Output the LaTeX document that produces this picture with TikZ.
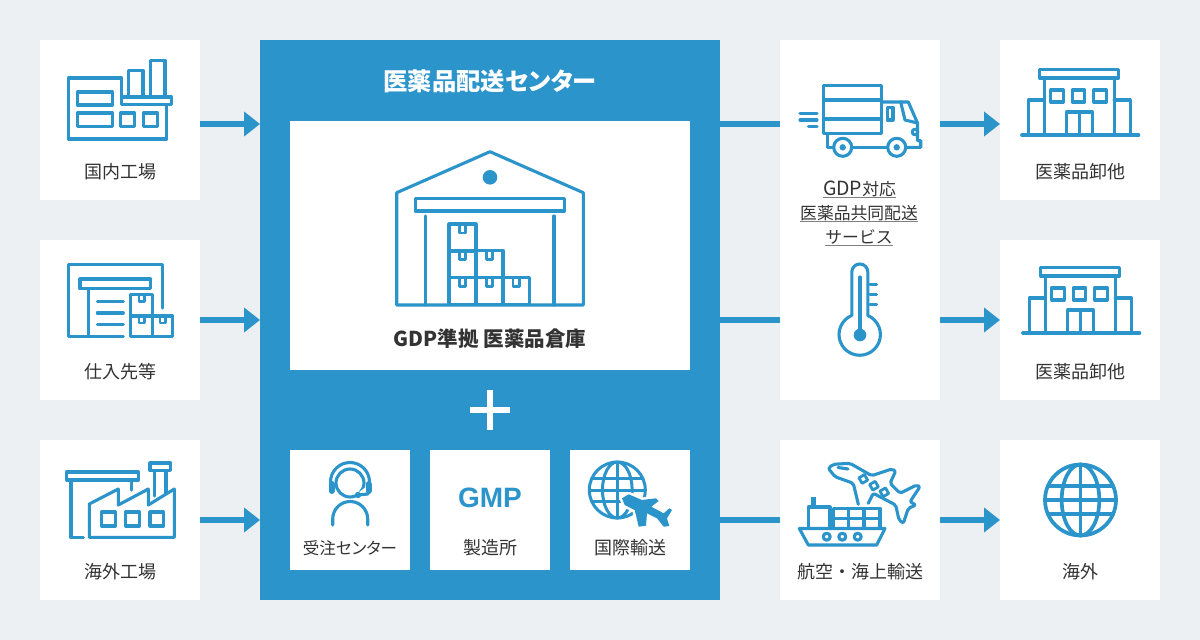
\documentclass[tikz,border=0pt]{standalone}
\usepackage{fontspec}
\setmainfont{Noto Sans CJK JP}
\newfontfamily\paltfont[RawFeature=+palt]{Noto Sans CJK JP}
\newfontfamily\gmpfont{Liberation Sans}
\usetikzlibrary{positioning, arrows.meta}
\definecolor{pagebg}{HTML}{ECF0F2}
\definecolor{mainblue}{HTML}{2A94CB}
\definecolor{labeltext}{HTML}{333333}

% Carton tape, a small U below the top edge
\newcommand{\boxtape}[4]{\draw[iconline, line width=2.8pt] (#1-#3,#2) -- (#1-#3,#2+#4) -- (#1+#3,#2+#4) -- (#1+#3,#2);}
% Globe with meridians and parallels
\newcommand{\globeicon}[4]{
  \draw[iconline, line width=#4pt] (#1,#2) circle[radius=#3pt];
  \draw[iconline, line width=#4pt] (#1,#2) ellipse[x radius=0.53*#3pt,y radius=#3pt];
  \draw[iconline, line width=#4pt] (#1,#2-#3) -- (#1,#2+#3);
  \draw[iconline, line width=#4pt] (#1-#3,#2) -- (#1+#3,#2);
  \draw[iconline, line width=#4pt] (#1-0.917*#3,#2-0.4*#3) -- (#1+0.917*#3,#2-0.4*#3);
  \draw[iconline, line width=#4pt] (#1-0.917*#3,#2+0.4*#3) -- (#1+0.917*#3,#2+0.4*#3);
}
% Small shop building, origin at the left end of the ground line
\newcommand{\shopicon}[2]{
  \begin{scope}[shift={(#1,#2)}]
    \draw[iconline] (0,0) -- (117,0);
    \draw[iconline] (18,-65.5) rectangle (97,-57);
    \draw[iconline] (22.5,-57) -- (22.5,0);
    \draw[iconline] (92.5,-57) -- (92.5,0);
    \draw[iconline] (22.5,-35) -- (6.5,-35) -- (6.5,0);
    \draw[iconline] (92.5,-35) -- (108.5,-35) -- (108.5,0);
    \foreach \wx in {29,50.5,72} {
      \draw[iconline] (\wx,-45) rectangle (\wx+12.5,-33);
    }
    \draw[iconline] (45,0) -- (45,-23) -- (70.5,-23) -- (70.5,0);
    \draw[iconline] (57.7,-23) -- (57.7,0);
  \end{scope}
}

\begin{document}
\begin{tikzpicture}[
    x=1pt, y=-1pt,
    % Define the boxes, labels and lines
    whitebox/.style={
        fill=white,
        inner sep=0pt,
        outer sep=0pt,
        minimum width=160pt,
        minimum height=160pt
    },
    subbox/.style={whitebox, minimum width=120pt, minimum height=120pt},
    boxlabel/.style={text=labeltext, font=\paltfont\fontsize{18}{18}\selectfont, inner sep=0pt},
    servicelabel/.style={text=labeltext, font=\fontsize{16.8}{17}\selectfont, inner sep=0pt, text depth=2.5pt, text height=15pt},
    underrule/.style={draw=gray, line width=1pt},
    iconline/.style={draw=mainblue, line width=3.1pt, line join=round, line cap=round},
    flowline/.style={draw=mainblue, line width=6pt},
    flowarrow/.style={flowline, -{Triangle[length=16pt,width=24pt]}}
]
\useasboundingbox (0,0) rectangle (1200,640);
\fill[pagebg] (0,0) rectangle (1200,640);

% Heights of the three flows
\coordinate (rowA) at (0,124);
\coordinate (rowB) at (0,320);
\coordinate (rowC) at (0,520);

% Left column
\node[whitebox] (factoryhome) at (120,120) {};
\node[whitebox, below=40pt of factoryhome] (supplier) {};
\node[whitebox, below=40pt of supplier] (factoryabroad) {};

% Distribution centre
\node[fill=mainblue, inner sep=0pt, outer sep=0pt, minimum width=460pt, minimum height=560pt] (center) at (490,320) {};
\node[whitebox, minimum width=400pt, minimum height=249pt] (warehouse) at (490,245.5) {};
\node[subbox] (callcenter) at (350,510) {};
\node[subbox, right=20pt of callcenter] (gmpplant) {};
\node[subbox, right=20pt of gmpplant] (intlship) {};

% Right columns
\node[whitebox, minimum height=360pt] (service) at (860,220) {};
\node[whitebox, below=40pt of service] (transport) {};
\node[whitebox] (wholesaleA) at (1080,120) {};
\node[whitebox, below=40pt of wholesaleA] (wholesaleB) {};
\node[whitebox, below=40pt of wholesaleB] (overseas) {};

% Flows
\foreach \src/\dst/\row in {factoryhome/center/rowA, supplier/center/rowB, factoryabroad/center/rowC, service/wholesaleA/rowA, service/wholesaleB/rowB, transport/overseas/rowC} {
  \draw[flowarrow] (\src.east |- \row) -- (\dst.west |- \row);
}
\foreach \dst/\row in {service/rowA, service/rowB, transport/rowC} {
  \draw[flowline] (center.east |- \row) -- (\dst.west |- \row);
}

% Texts
\node[text=white, font=\paltfont\bfseries\fontsize{24.3}{24}\selectfont, inner sep=0pt] (centertitle) at (490,81) {医薬品配送センター};
\node[text=labeltext, font=\paltfont\bfseries\fontsize{20.5}{20}\selectfont, inner sep=0pt] (warehousetitle) at (490,339) {GDP準拠 医薬品倉庫};
\node[boxlabel] (labelhome) at (120,172) {国内工場};
\node[boxlabel] (labelsupplier) at (120,372) {仕入先等};
\node[boxlabel] (labelabroad) at (120,572) {海外工場};
\node[boxlabel, font=\paltfont\fontsize{16.5}{17}\selectfont] (labelcall) at (350,548) {受注センター};
\node[boxlabel] (labelgmp) at (490,548) {製造所};
\node[boxlabel] (labelintl) at (630,548) {国際輸送};
\node[boxlabel, font=\fontsize{18}{18}\selectfont] (labeltransport) at (860.5,572) {航空・海上輸送};
\node[boxlabel] (labelwholeA) at (1080,172) {医薬品卸他};
\node[boxlabel] (labelwholeB) at (1080,372) {医薬品卸他};
\node[boxlabel] (labeloverseas) at (1080,572) {海外};
\node[text=mainblue, font=\gmpfont\bfseries\fontsize{28}{28}\selectfont, inner sep=0pt] (gmptext) at (490,498) {GMP};
\node[servicelabel] (serviceA) at (859.5,189) {{\fontsize{19.5}{17}\selectfont GDP}対応};
\node[servicelabel] (serviceB) at (859,213) {医薬品共同配送};
\node[servicelabel] (serviceC) at (859,237) {サービス};
\draw[underrule] (serviceA.south west) -- (serviceA.south east);
\draw[underrule] (serviceB.south west) -- (serviceB.south east);
\draw[underrule] (serviceC.south west) -- (serviceC.south east);

% Plus sign
\fill[white] (470,407) rectangle (510,413);
\fill[white] (487,390) rectangle (493,430);

% Icon of the home factory
\draw[iconline] (121.7,97) -- (121.7,78) -- (68.3,78) -- (68.3,139) -- (166.7,139) -- (166.7,105);
\draw[iconline] (121.7,97) rectangle (171.5,104.5);
\draw[iconline] (128.7,97) -- (128.7,70.5) -- (143,70.5) -- (143,97);
\draw[iconline] (150.7,97) -- (150.7,60.5) -- (165,60.5) -- (165,97);
\draw[iconline] (77.3,92) rectangle (112.3,105);
\draw[iconline] (77.3,113) rectangle (112.3,126.5);
\draw[iconline] (120.7,113) rectangle (134.7,126.5);
\draw[iconline] (143.3,113) rectangle (157.3,126.5);

% Icon of the supplier
\draw[iconline] (162.3,308) -- (162.3,264.5) -- (68.3,264.5) -- (68.3,336.7) -- (123.3,336.7);
\draw[iconline] (80,279) rectangle (150.7,288.5);
\draw[iconline] (88.3,288.5) -- (88.3,336.7);
\foreach \ly in {301.7,313,324.3} {
  \draw[iconline] (97.3,\ly) -- (123.3,\ly);
}
\draw[iconline] (130.7,294.5) rectangle (152.7,316);
\draw[iconline] (130.7,316) rectangle (152.7,336.7);
\draw[iconline] (152.7,316) rectangle (172.7,336.7);
\boxtape{141.7}{294.5}{2.7}{7}
\boxtape{141.7}{316}{2.7}{7}
\boxtape{162.7}{316}{2.7}{7}

% Icon of the overseas factory
\draw[iconline] (66.7,472) rectangle (138.3,480);
\draw[iconline] (71,480) -- (71,537.3) -- (83.3,537.3);
\draw[iconline] (131.7,480) -- (131.7,490);
\draw[iconline] (89.3,537.3) -- (89.3,504) -- (118.3,489) -- (118.3,505) -- (148.3,489) -- (148.3,505) -- (174.3,489) -- (174.3,537.3) -- cycle;
\draw[iconline] (150,463) rectangle (170.7,470.7);
\draw[iconline] (154.3,470.7) -- (154.3,496);
\draw[iconline] (166,470.7) -- (166,493);
\foreach \wx in {101.7,125.7,150} {
  \draw[iconline] (\wx,512) rectangle (\wx+13.5,526);
}

% Icon of the warehouse
\draw[iconline] (396.7,305) -- (396.7,192.7) -- (490,151.7) -- (583.3,192.7) -- (583.3,305) -- cycle;
\fill[mainblue] (490,177.3) circle[radius=7.3pt];
\draw[iconline] (415.5,198.5) rectangle (564.5,211);
\draw[iconline] (425.7,216) -- (425.7,305);
\draw[iconline] (554,216) -- (554,305);
\foreach \cx/\cy in {449/224, 449/250.7, 476/250.7, 449/277.7, 476/277.7, 502.7/277.7} {
  \draw[iconline] (\cx,\cy) rectangle (\cx+27,\cy+27);
  \boxtape{\cx+13.5}{\cy}{3.2}{9}
}

% Icon of the operator
\draw[iconline] (350,483) circle[radius=14pt];
\fill[white] (355,495) -- (370,499) -- (366,487) -- cycle;
\draw[iconline] (330.5,482) arc[start angle=180,end angle=0,radius=19.5pt];
\draw[iconline, line width=6pt] (331.5,484) -- (331.5,491);
\draw[iconline, line width=6pt] (368.5,484) -- (368.5,491);
\draw[iconline] (368,494) -- (358,495);
\fill[mainblue] (358,495) circle[radius=3.2pt];
\draw[iconline] (332.7,525) -- (332.7,519) arc[start angle=180,end angle=0,radius=17.5pt] -- (367.7,525);

% Icon of the international transport
\globeicon{617.3}{490}{28}{3}
\fill[white, draw=white, line width=5pt, line join=round] (622,498.3) -- (628.7,494.3) -- (642,500) -- (656,498.3) -- (658.7,501) -- (651.3,506.7) -- (663.7,513.3) -- (669.3,508.3) -- (672,510) -- (667,518.3) -- (669.3,526) -- (663.7,526.7) -- (657,518.3) -- (647,513.3) -- (646,525.7) -- (638.7,526.7) -- (634.7,510) -- (624.7,505) -- cycle;
\fill[mainblue] (622,498.3) -- (628.7,494.3) -- (642,500) -- (656,498.3) -- (658.7,501) -- (651.3,506.7) -- (663.7,513.3) -- (669.3,508.3) -- (672,510) -- (667,518.3) -- (669.3,526) -- (663.7,526.7) -- (657,518.3) -- (647,513.3) -- (646,525.7) -- (638.7,526.7) -- (634.7,510) -- (624.7,505) -- cycle;

% Icon of the truck
\draw[iconline] (823.3,85.5) rectangle (881.7,133.3);
\draw[iconline] (823.3,100) -- (881.7,100);
\draw[iconline] (823.3,119) -- (881.7,119);
\draw[iconline] (827.7,133.3) -- (827.7,147.3) -- (833,147.3);
\draw[iconline] (852,147.3) -- (887.3,147.3);
\draw[iconline] (906.5,147.3) -- (920.7,147.3) -- (920.7,140.7) -- (917.5,140.7) -- (917.5,123) -- (908.3,102) -- (881.7,102);
\draw[iconline] (900.7,102) -- (905,120) -- (917.5,123);
\draw[iconline] (887.3,107.5) rectangle (893,120);
\draw[iconline] (842.7,147.3) circle[radius=9pt];
\draw[iconline] (896.7,147.3) circle[radius=9pt];
\fill[mainblue] (842.7,147.3) circle[radius=3.2pt];
\fill[mainblue] (896.7,147.3) circle[radius=3.2pt];
\draw[iconline] (915,132) circle[radius=2.8pt];
\draw[iconline] (800,113.5) -- (817,113.5);
\draw[iconline] (800,120) -- (817,120);
\draw[iconline] (808.5,126.5) -- (817,126.5);

% Icon of the thermometer
\draw[iconline] (851.8,315.5) -- (851.8,272) arc[start angle=180,end angle=0,radius=8pt] -- (867.8,315.5) arc[start angle=67,end angle=-247,radius=20.7pt];
\draw[iconline] (860,277) -- (860,335);
\fill[mainblue] (860,335) circle[radius=6.3pt];
\foreach \ly in {284.3,294.3,304.3} {
  \draw[iconline] (870,\ly) -- (876.5,\ly);
}

% Icon of the plane over the ship
\draw[iconline, rounded corners=2pt] (858.3,504.3) -- (853.3,483.3) -- (835,476.7) -- (828.3,468.3) -- (833.3,464.3) -- (850,463.3) -- (871.7,475.7) -- (891.7,469) -- (895.7,471) -- (890,483.3) -- (900,493.3) -- (916.7,485) -- (920,486.7) -- (910,501.7) -- (916,505) -- (908.3,508.3) -- (903.3,523.3) -- (899,520) -- (895.7,505) -- (873.3,493.3) -- (868.3,503.3);
\draw[iconline] (838,467.5) -- (848,469);
\foreach \wx/\wy in {863.3/479, 874/485.7, 884.3/492.3} {
  \draw[iconline, line width=2.8pt, rotate around={30:(\wx,\wy)}] (\wx-3.2,\wy-3.2) rectangle (\wx+3.2,\wy+3.2);
}
\draw[iconline] (799.3,528.5) -- (885,528.5) -- (876.7,545) -- (808.3,545) -- cycle;
\foreach \px in {826.7,842.3,857.7} {
  \draw[iconline] (\px,536.7) circle[radius=3.5pt];
}
\draw[iconline] (808.3,528.5) -- (808.3,507) -- (830,507) -- (830,528.5);
\draw[iconline, line width=5pt, line cap=butt] (813.3,497) -- (813.3,507);
\draw[iconline] (833.5,508.3) rectangle (880,528.5);
\draw[iconline] (833.5,518.3) -- (880,518.3);
\draw[iconline] (848.5,508.3) -- (848.5,528.5);
\draw[iconline] (864,508.3) -- (864,528.5);

% Icons of the wholesalers and overseas
\shopicon{1021.7}{135}
\shopicon{1022.7}{333}
\globeicon{1080.5}{500}{35.5}{3.7}

\end{tikzpicture}
\end{document}
